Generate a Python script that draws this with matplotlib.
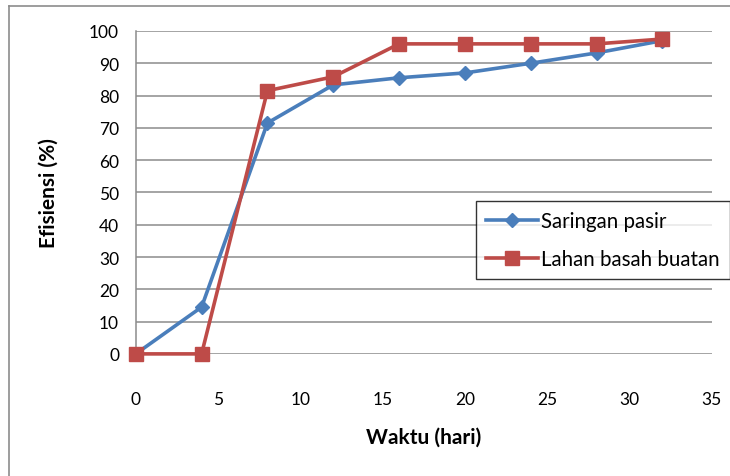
import matplotlib.pyplot as plt
from matplotlib.lines import Line2D

hari = [0, 4, 8, 12, 16, 20, 24, 28, 32]
saringan_pasir = [0, 14.5, 71.5, 83.3, 85.5, 87, 90, 93.2, 97]
lahan_basah = [0, 0, 81.5, 85.8, 96, 96, 96, 96, 97.5]

plt.rcParams['font.family'] = ['Lato', 'DejaVu Sans']

fig = plt.figure(figsize=(7.30, 4.77), dpi=100)
ax = fig.add_axes([0.186, 0.256, 0.789, 0.677])

blue = '#4A7EBB'
red = '#BE4B48'

ax.plot(hari, saringan_pasir, color=blue, lw=2.6, marker='D', ms=7.5,
        label='Saringan pasir', zorder=3)
ax.plot(hari, lahan_basah, color=red, lw=2.6, marker='s', ms=10,
        label='Lahan basah buatan', zorder=4)

ax.set_xlim(0, 35)
ax.set_ylim(0, 100)
ax.set_xticks(range(0, 36, 5))
ax.set_yticks(range(0, 101, 10))
ax.grid(axis='y', color='#8c8c8c', lw=1.1)
ax.set_axisbelow(True)
for s in ['top', 'right', 'bottom']:
    ax.spines[s].set_visible(False)
ax.spines['left'].set_color('#8c8c8c')
ax.spines['left'].set_linewidth(1.1)
ax.tick_params(length=0, labelsize=12.5)
ax.tick_params(axis='x', pad=27)
ax.tick_params(axis='y', pad=12)
for ln in ax.lines:
    ln.set_clip_on(False)

ax.set_xlabel('Waktu (hari)', fontsize=15, fontweight='bold', labelpad=14)
ax.set_ylabel('Efisiensi (%)', fontsize=15, fontweight='bold', labelpad=22)

leg = ax.legend(loc='upper left', bbox_to_anchor=(476/730, 1 - 202/477),
                bbox_transform=fig.transFigure, fontsize=14.8,
                frameon=True, fancybox=False, edgecolor='black', handlelength=2.5,
                borderpad=0.5, labelspacing=0.85, handletextpad=0.15,
                borderaxespad=0)
leg.get_frame().set_linewidth(1.0)
leg.set_zorder(5)

# outer chart border (top and left edges visible)
fig.add_artist(Line2D([9/730, 9/730], [0, 1 - 7/477], color='#8c8c8c', lw=1.2))
fig.add_artist(Line2D([9/730, 1], [1 - 7/477, 1 - 7/477], color='#8c8c8c', lw=1.2))

plt.savefig('out.png', dpi=100)
